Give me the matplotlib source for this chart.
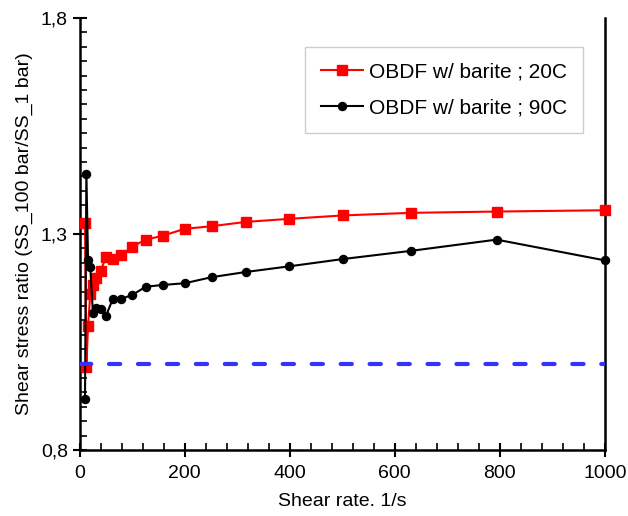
import matplotlib
matplotlib.use('Agg')
import matplotlib.pyplot as plt
from matplotlib.ticker import MultipleLocator, FixedLocator

plt.rcParams['font.family'] = ['Liberation Sans', 'DejaVu Sans']

# shear rates (1/s)
rate_20 = [10, 12.6, 15.8, 20, 25.1, 31.6, 39.8, 50.1, 63.1, 79.4, 100, 126, 158, 200, 251,
           316, 398, 501, 631, 794, 1000]
ratio_20 = [1.326, 0.992, 1.088, 1.16, 1.182, 1.197, 1.215, 1.247, 1.243, 1.251, 1.271, 1.287,
            1.296, 1.312, 1.318, 1.328, 1.335, 1.343, 1.349, 1.352, 1.355]

rate_90 = [10, 12.6, 15.8, 20, 25.1, 31.6, 39.8, 50.1, 63.1, 79.4, 100, 126, 158, 200, 251,
           316, 398, 501, 631, 794, 1000]
ratio_90 = [0.917, 1.440, 1.240, 1.224, 1.116, 1.128, 1.127, 1.111, 1.150, 1.150, 1.159, 1.178,
            1.182, 1.186, 1.200, 1.212, 1.225, 1.242, 1.261, 1.287, 1.239]

ref_x = [0, 1000]
ref_y = [1.0, 1.0]

fig = plt.figure(figsize=(6.28, 5.16), dpi=100)
ax = fig.add_axes([0.127, 0.128, 0.836, 0.837])

ax.plot(rate_20, ratio_20, color='#ff0000', marker='s', markersize=6.5, linewidth=1.5,
        label='OBDF w/ barite ; 20C', clip_on=False, zorder=3)
ax.plot(rate_90, ratio_90, color='black', marker='o', markersize=5.8, linewidth=1.5,
        label='OBDF w/ barite ; 90C', clip_on=False, zorder=4)
# reference line at ratio = 1
ax.plot(ref_x, ref_y, color='#3333ff', linewidth=3, linestyle=(0, (2.7, 4.25)),
        dash_capstyle='round', zorder=5)

ax.set_xlim(0, 1000)
ax.set_ylim(0.8, 1.8)
ax.xaxis.set_major_locator(FixedLocator([0, 200, 400, 600, 800, 1000]))
ax.xaxis.set_minor_locator(MultipleLocator(40))
ax.yaxis.set_major_locator(FixedLocator([0.8, 1.3, 1.8]))
ax.yaxis.set_minor_locator(MultipleLocator(1 / 30))
ax.set_yticklabels(['0,8', '1,3', '1,8'])

ax.tick_params(which='major', direction='inout', length=10, width=1.5, labelsize=14)
ax.tick_params(which='minor', direction='in', length=5, width=1.2)
ax.tick_params(axis='x', pad=6)

ax.spines['top'].set_visible(False)
for s in ['left', 'bottom', 'right']:
    ax.spines[s].set_linewidth(1.8)

ax.set_xlabel('Shear rate. 1/s', fontsize=14, labelpad=8)
ax.set_ylabel('Shear stress ratio (SS_100 bar/SS_1 bar)', fontsize=14, labelpad=6)

leg = ax.legend(loc='upper right', bbox_to_anchor=(0.958, 0.933), borderaxespad=0,
                fontsize=15, fancybox=False, framealpha=1, edgecolor='#cccccc',
                handlelength=2.0, handletextpad=0.3, borderpad=0.75, labelspacing=0.8)

fig.savefig('out.png', dpi=100)
